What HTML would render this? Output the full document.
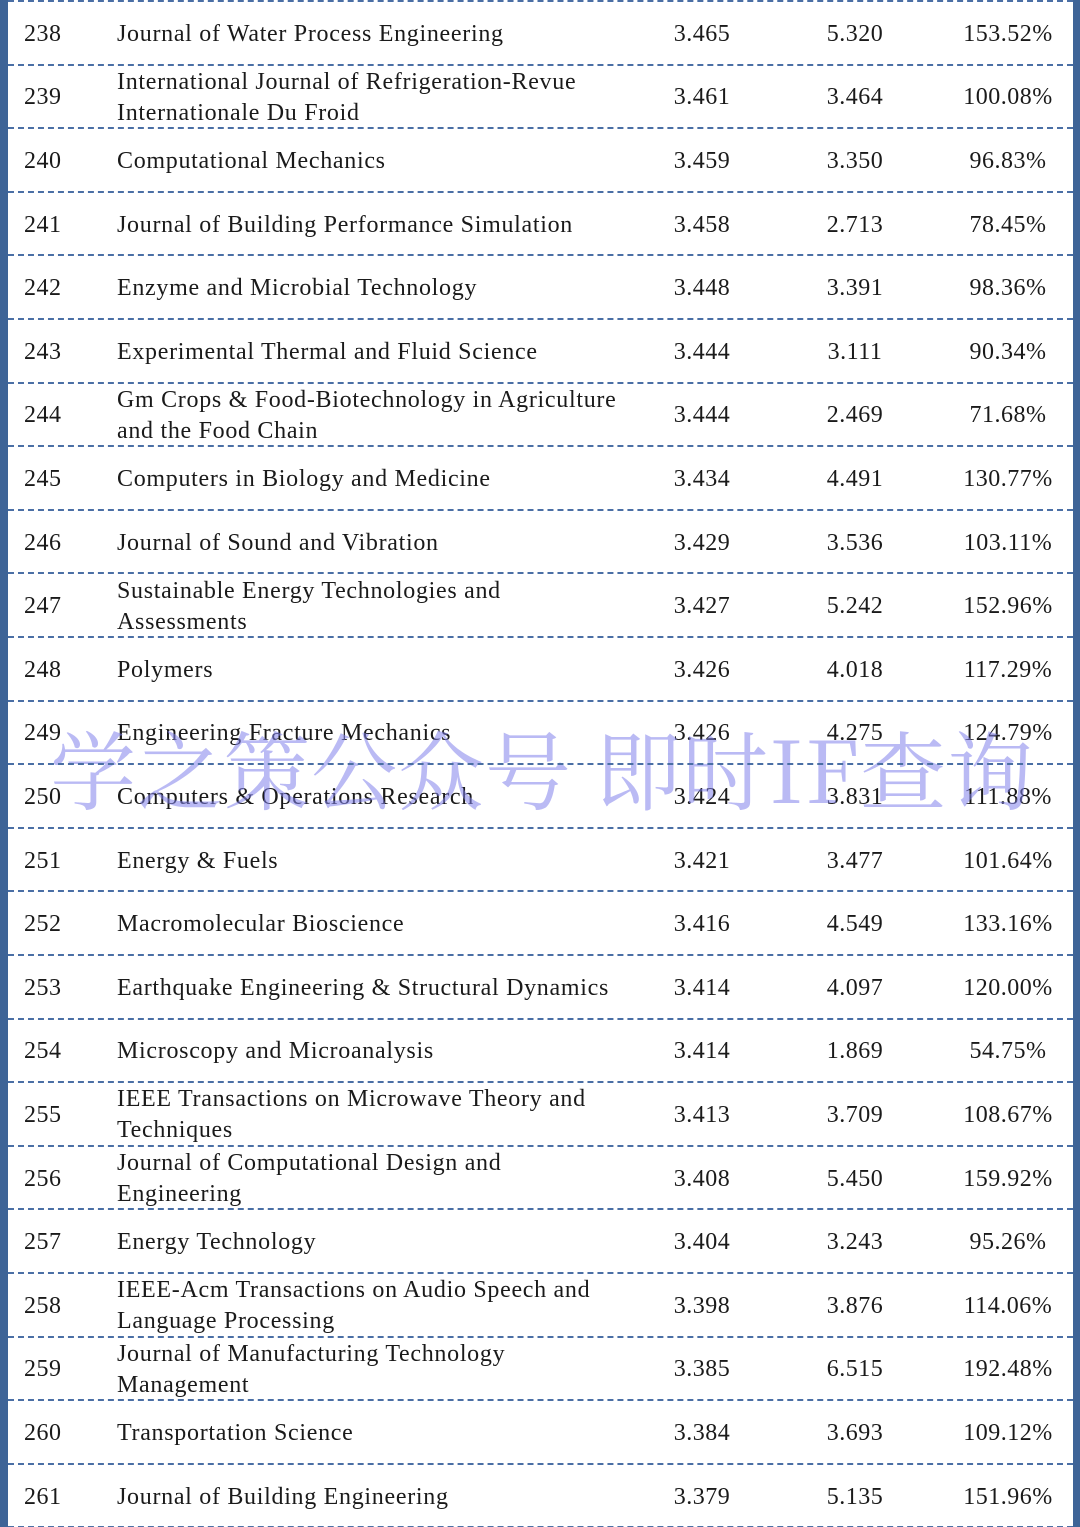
<!DOCTYPE html>
<html><head><meta charset="utf-8">
<style>
html,body{margin:0;padding:0;background:#fff;}
#page{position:relative;width:1080px;height:1527px;overflow:hidden;background:#fff;font-family:"Liberation Serif","Noto Serif CJK SC",serif;color:#1a1a1a;font-size:24px;letter-spacing:0.5px;}
.lb{position:absolute;left:0;top:0;width:8px;height:1527px;background:#3e6497;}
.rb{position:absolute;left:1073px;top:0;width:7px;height:1527px;background:#3e6497;}
.row{position:absolute;left:8px;width:1065px;}
.sep{position:absolute;left:8px;width:1065px;height:0;border-top:2px dashed #4a6fa5;}
.c{position:absolute;top:2px;height:100%;display:flex;align-items:center;line-height:31px;}
.n{left:16px;}
.name{left:109px;width:600px;letter-spacing:0.7px;white-space:nowrap;}
.v{width:160px;justify-content:center;}
.wm{position:absolute;left:50px;top:716px;font-family:"Noto Serif CJK SC","Liberation Serif",serif;font-size:86px;line-height:100px;color:rgba(130,130,235,0.55);letter-spacing:1px;white-space:pre;z-index:1;}
.sep{z-index:2}
.row{z-index:0}
</style></head><body>
<div id="page">
<div class="lb"></div>
<div class="rb"></div>
<div class="wm">学之策公众号 即时IF查询</div>
</div>
<script>
const ranks=[238,239,240,241,242,243,244,245,246,247,248,249,250,251,252,253,254,255,256,257,258,259,260,261];
const names=["Journal of Water Process Engineering","International Journal of Refrigeration-Revue<br>Internationale Du Froid","Computational Mechanics","Journal of Building Performance Simulation","Enzyme and Microbial Technology","Experimental Thermal and Fluid Science","Gm Crops &amp; Food-Biotechnology in Agriculture<br>and the Food Chain","Computers in Biology and Medicine","Journal of Sound and Vibration","Sustainable Energy Technologies and<br>Assessments","Polymers","Engineering Fracture Mechanics","Computers &amp; Operations Research","Energy &amp; Fuels","Macromolecular Bioscience","Earthquake Engineering &amp; Structural Dynamics","Microscopy and Microanalysis","IEEE Transactions on Microwave Theory and<br>Techniques","Journal of Computational Design and<br>Engineering","Energy Technology","IEEE-Acm Transactions on Audio Speech and<br>Language Processing","Journal of Manufacturing Technology<br>Management","Transportation Science","Journal of Building Engineering"];
const ifOld=["3.465","3.461","3.459","3.458","3.448","3.444","3.444","3.434","3.429","3.427","3.426","3.426","3.424","3.421","3.416","3.414","3.414","3.413","3.408","3.404","3.398","3.385","3.384","3.379"];
const ifNew=["5.320","3.464","3.350","2.713","3.391","3.111","2.469","4.491","3.536","5.242","4.018","4.275","3.831","3.477","4.549","4.097","1.869","3.709","5.450","3.243","3.876","6.515","3.693","5.135"];
const ratio=["153.52%","100.08%","96.83%","78.45%","98.36%","90.34%","71.68%","130.77%","103.11%","152.96%","117.29%","124.79%","111.88%","101.64%","133.16%","120.00%","54.75%","108.67%","159.92%","95.26%","114.06%","192.48%","109.12%","151.96%"];
const page=document.getElementById('page');
const H=63.6;
function addSep(y){const s=document.createElement('div');s.className='sep';s.style.top=(y-1)+'px';


page.appendChild(s);}
addSep(1);
ranks.forEach((r,i)=>{
 const row=document.createElement('div');row.className='row';
 
 
 row.style.top=(i*H+1)+'px';row.style.height=(H-1)+'px';
 row.innerHTML='<div class="c n">'+r+'</div>'+
 '<div class="c name"><span>'+names[i]+'</span></div>'+
 '<div class="c v" style="left:614px">'+ifOld[i]+'</div>'+
 '<div class="c v" style="left:767px">'+ifNew[i]+'</div>'+
 '<div class="c v" style="left:920px">'+ratio[i]+'</div>';
 page.appendChild(row);
 addSep((i+1)*H+1);
});
</script>
</body></html>
